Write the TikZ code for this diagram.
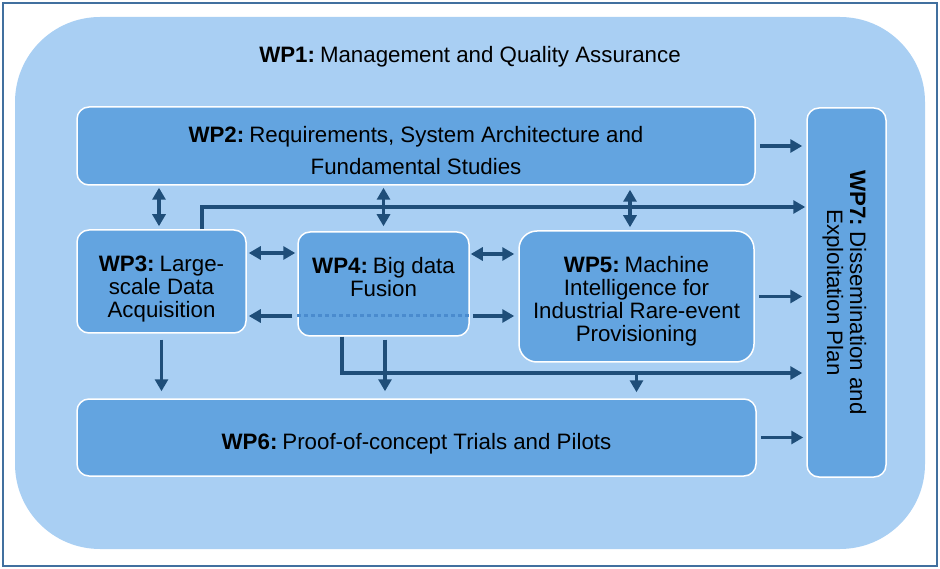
\documentclass[tikz,border=0pt]{standalone}
\usepackage{fontspec}
\setmainfont{Liberation Sans}
\usetikzlibrary{arrows.meta}
\definecolor{framecol}{HTML}{41709F}
\definecolor{outerfill}{HTML}{A9CFF3}
\definecolor{wpfill}{HTML}{63A4E0}
\definecolor{arrcol}{HTML}{1F4E79}
\definecolor{dotcol}{HTML}{4A8BCE}
\newcommand{\wptag}[1]{\textbf{WP#1:}\hspace{5pt}\ignorespaces}
\tikzset{
  wpfont/.style={font=\fontsize{22.3}{23}\selectfont},
  wpbox/.style={draw=white, line width=1.5pt, fill=wpfill, rounded corners=12pt,
    align=center, inner sep=0pt, wpfont},
  arr/.style={draw=arrcol, line width=3.5pt, -{Triangle[length=12pt,width=13pt]}},
  dbl/.style={draw=arrcol, line width=3.5pt, {Triangle[length=12pt,width=13pt]}-{Triangle[length=12pt,width=13pt]}},
  dotline/.style={draw=dotcol, line width=3pt, dash pattern=on 4pt off 3pt},
}
\begin{document}
\begin{tikzpicture}[x=1pt, y=-1pt]
                \useasboundingbox (0,0) rectangle (940,569);
                \draw [framecol, line width=2pt] (2.5,3.5) rectangle (936.5,566);
                % work packages
                \node [fill=outerfill, rounded corners=85pt, minimum width=910pt, minimum height=532pt] (wp1) at (470,283) {};
                \node [wpfont] (wp1title) at (470,57) {\wptag{1} Management and Quality Assurance};
                \node [wpbox, minimum width=678pt, minimum height=78pt] (wp2) at (416,146) {\rule{0pt}{24.3pt}\wptag{2} Requirements, System Architecture and\\[9pt] Fundamental Studies};
                \node [wpbox, minimum width=169pt, minimum height=103pt] (wp3) at (161.5,281.5) {\rule{0pt}{30.3pt}\wptag{3} Large-\\scale Data\\Acquisition};
                \node [wpbox, minimum width=171pt, minimum height=104pt, text depth=14pt] (wp4) at (383.5,284) {\wptag{4} Big data\\Fusion};
                \node [wpbox, rounded corners=18pt, minimum width=235pt, minimum height=131pt] (wp5) at (636.5,296.5) {\rule{0pt}{26.3pt}\wptag{5} Machine\\Intelligence for\\Industrial Rare-event\\Provisioning};
                \node [wpbox, minimum width=679pt, minimum height=77pt] (wp6) at (416.5,437.5) {\rule{0pt}{28.3pt}\wptag{6} Proof-of-concept Trials and Pilots};
                \node [wpbox, minimum width=79pt, minimum height=369pt] (wp7) at (846.5,292.5) {};
                \node [rotate=-90, align=center, wpfont] (wp7text) at ([xshift=-2pt]wp7.center) {\wptag{7} Dissemination and\\Exploitation Plan};
                % buses
                \coordinate (bustop) at (202,207);
                \coordinate (busbot) at (342,373);
                \coordinate (midline) at (383.5,316);
                % arrows to WP7
                \draw [arr, shorten <=4pt, shorten >=4pt] (wp2.east) -- (wp7.west |- wp2.east);
                \draw [arr, shorten <=4pt, shorten >=4pt] (wp5.east) -- (wp7.west |- wp5.east);
                \draw [arr, shorten <=4pt, shorten >=3pt] (wp6.east) -- (wp7.west |- wp6.east);
                \draw [arr, shorten >=1pt] (wp3.north -| bustop) |- (wp7.west |- bustop);
                \draw [arr, shorten >=4pt] (wp4.south -| busbot) |- (wp7.west |- busbot);
                % WP2 links
                \draw [dbl, shorten <=2pt, shorten >=3pt] ([xshift=-2.5pt]wp2.south -| wp3.north) -- ([xshift=-2.5pt]wp3.north);
                \draw [dbl, shorten <=2pt, shorten >=5pt] (wp2.south -| wp4.north) -- (wp4.north);
                \draw [dbl, shorten <=4pt, shorten >=3pt] ([xshift=-6.5pt]wp2.south -| wp5.north) -- ([xshift=-6.5pt]wp5.north);
                % WP3, WP4, WP5 links
                \draw [dbl, shorten <=2pt, shorten >=2pt] ([yshift=28.5pt]wp3.east) -- ([yshift=28.5pt]wp3.east -| wp4.west);
                \draw [dbl, shorten <=1pt, shorten >=4pt] ([yshift=30pt]wp4.east) -- ([yshift=30pt]wp4.east -| wp5.west);
                \draw [dotline] (wp4.west |- midline) -- (wp4.east |- midline);
                \draw [arr, shorten <=5pt, shorten >=2pt] (wp4.west |- midline) -- (wp3.east |- midline);
                \draw [arr, shorten <=3pt, shorten >=4pt] (wp4.east |- midline) -- (wp5.west |- midline);
                % links to WP6
                \draw [arr, shorten <=6pt, shorten >=7pt] (wp3.south) -- (wp6.north -| wp3.south);
                \draw [arr, shorten <=3pt, shorten >=7pt] ([xshift=1.5pt]wp4.south) -- ([xshift=1.5pt]wp6.north -| wp4.south);
                \draw [arr, shorten >=6pt] (busbot -| wp5.south) -- (wp6.north -| wp5.south);
\end{tikzpicture}
\end{document}
